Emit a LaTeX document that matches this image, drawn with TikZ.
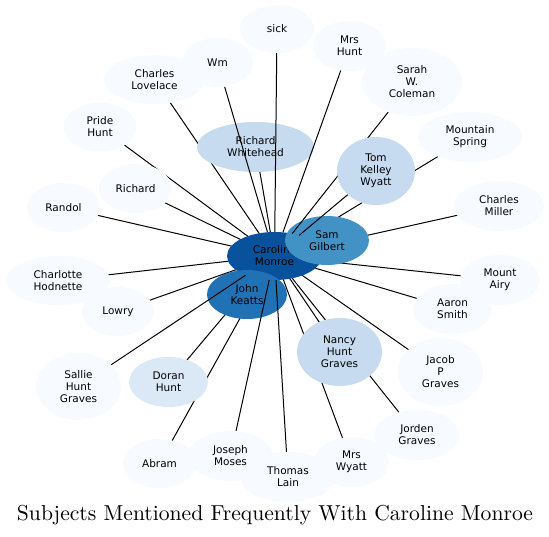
\documentclass[tikz,border=0pt]{standalone}
\usepackage{fontspec}
\usepackage{graphicx}
\newfontfamily\dejavu{DejaVu Sans}
\usetikzlibrary{shapes.geometric}
\pgfdeclarelayer{edgeunder}
\pgfdeclarelayer{darknodes}
\pgfdeclarelayer{edgeover}
\pgfsetlayers{edgeunder,darknodes,edgeover,main}
\definecolor{c0}{HTML}{F7FBFF}
\definecolor{c1}{HTML}{DBE9F6}
\definecolor{c2}{HTML}{C6DBEF}
\definecolor{c3}{HTML}{4292C6}
\definecolor{c4}{HTML}{2171B5}
\definecolor{c5}{HTML}{08519C}
\tikzset{
  ent/.style={ellipse, inner sep=0pt, align=center, fill=c0,
    font=\dejavu\fontsize{10.5}{12}\selectfont},
  sz/.style 2 args={minimum width=#1pt, minimum height=#2pt},
  link/.style={draw=black, line width=1pt}
}
\begin{document}
\begin{tikzpicture}[x=1pt,y=-1pt]
\useasboundingbox (0,0) rectangle (549,537);
\begin{pgfonlayer}{darknodes}
\node[ent, fill=c5, sz={95}{48}] (car) at (274.5,256) {Caroline\\Monroe};
\node[ent, fill=c3, sz={84}{49}] (sam) at (327,240.5) {Sam\\Gilbert};
\node[ent, fill=c4, sz={80}{49}] (jk) at (247,294.5) {John\\Keatts};
\node[ent, fill=c2, sz={117}{50}] (rw) at (255.5,147) {Richard\\Whitehead};
\end{pgfonlayer}
\node[ent, sz={74}{48}] (sick) at (277,29) {sick};
\node[ent, sz={73}{50}] (mrshunt) at (349.5,46) {Mrs\\Hunt};
\node[ent, sz={71}{49}] (wm) at (217.5,62.5) {Wm};
\node[ent, sz={101}{49}] (lovelace) at (154.5,79.5) {Charles\\Lovelace};
\node[ent, sz={100}{68}] (sarah) at (412,82) {Sarah\\W.\\Coleman};
\node[ent, sz={104}{50}] (mtspring) at (470,137) {Mountain\\Spring};
\node[ent, sz={73}{49}] (pride) at (100,127) {Pride\\Hunt};
\node[ent, fill=c2, sz={78}{68}] (tom) at (376,171) {Tom\\Kelley\\Wyatt};
\node[ent, sz={73}{49}] (richard) at (135.5,188.5) {Richard};
\node[ent, sz={73}{49}] (randol) at (63.5,207.5) {Randol};
\node[ent, sz={90}{50}] (cmiller) at (499,206) {Charles\\Miller};
\node[ent, sz={104}{49}] (charlotte) at (58,280.5) {Charlotte\\Hodnette};
\node[ent, sz={80}{50}] (mtairy) at (500,280) {Mount\\Airy};
\node[ent, sz={79}{50}] (aaron) at (452.5,309) {Aaron\\Smith};
\node[ent, sz={72}{49}] (lowry) at (118,311.5) {Lowry};
\node[ent, fill=c2, sz={85}{68}] (nancy) at (339.5,352) {Nancy\\Hunt\\Graves};
\node[ent, sz={85}{68}] (jacob) at (440.5,372) {Jacob\\P\\Graves};
\node[ent, sz={85}{67}] (sallie) at (78.5,386.5) {Sallie\\Hunt\\Graves};
\node[ent, fill=c1, sz={79}{50}] (doran) at (168.5,382) {Doran\\Hunt};
\node[ent, sz={86}{50}] (jorden) at (417,435) {Jorden\\Graves};
\node[ent, sz={73}{49}] (abram) at (159.5,463.5) {Abram};
\node[ent, sz={85}{50}] (joseph) at (230.5,456) {Joseph\\Moses};
\node[ent, sz={94}{50}] (thomas) at (288,477) {Thomas\\Lain};
\node[ent, sz={75}{50}] (mrswyatt) at (351.5,462) {Mrs\\Wyatt};
\begin{pgfonlayer}{edgeunder}
\foreach \t in {sam,jk,rw,lovelace,mtspring,doran,abram,mrswyatt,jorden,
  cmiller,mtairy,aaron,jacob,nancy,pride,richard,randol,charlotte,lowry}
  \draw[link] (car.center) -- (\t.center);
\end{pgfonlayer}
\begin{pgfonlayer}{edgeover}
\foreach \t in {wm,sick,mrshunt,sarah,tom,sallie,joseph,thomas}
  \draw[link] (car) -- (\t);
\end{pgfonlayer}
\node (title) at (275,515) {\resizebox{516pt}{!}{Subjects Mentioned Frequently With Caroline Monroe}};
\end{tikzpicture}
\end{document}
